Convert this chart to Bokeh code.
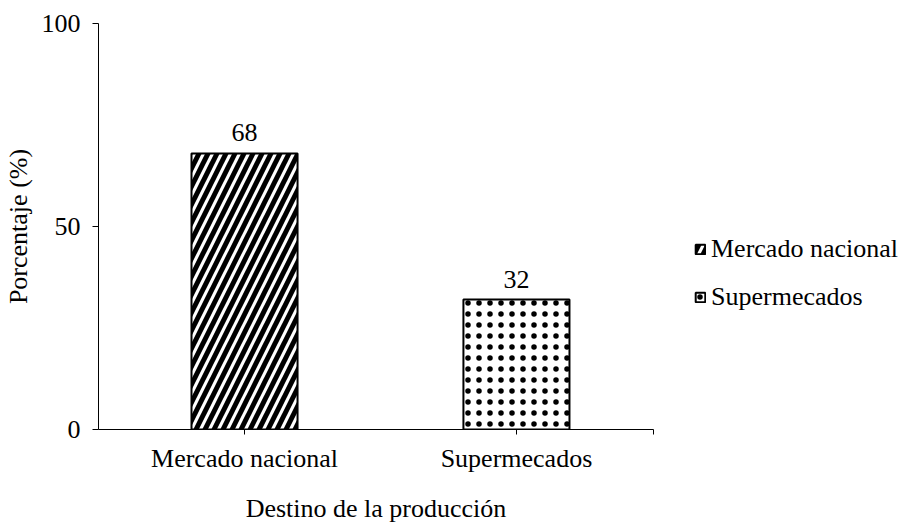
from bokeh.plotting import figure
from bokeh.models import Range1d, FixedTicker, Legend, LegendItem, ColumnDataSource
from bokeh.core.properties import value
from bokeh.embed import file_html
from bokeh.resources import INLINE

categories = ["Mercado nacional", "Supermecados"]
values = [68, 32]
y_ticks = [0, 50, 100]
x_title = "Destino de la producción"
y_title = "Porcentaje (%)"

FONT = "Liberation Serif"
FS = "26px"

positions = [i + 1 for i in range(len(categories))]
x_end = 2.504

p = figure(width=890, height=512, output_backend="svg", toolbar_location=None,
           x_range=Range1d(0.463, x_end), y_range=Range1d(0, 100),
           frame_width=555, frame_height=406,
           min_border_left=97, min_border_right=238, min_border_top=23, min_border_bottom=80)
p.outline_line_color = None
p.grid.visible = False
p.background_fill_color = "white"

patterns = ["/", "."]
scales = [18, 11]
weights = [5, 1]

renderers = []
for i, (cat, val) in enumerate(zip(categories, values)):
    src = ColumnDataSource(dict(x=[positions[i]], top=[val]))
    r = p.vbar(x="x", top="top", bottom=0, width=0.39, source=src,
               fill_color="white", line_color="black", line_width=2,
               hatch_pattern=patterns[i], hatch_color="black",
               hatch_scale=scales[i], hatch_weight=weights[i])
    renderers.append(r)

lsrc = ColumnDataSource(dict(x=positions, y=values, t=[str(v) for v in values]))
p.text(x="x", y="y", text="t", source=lsrc, y_offset=-12,
       text_align="center", text_baseline="bottom",
       text_font=value(FONT), text_font_size=FS, text_color="black")

items = [LegendItem(label=cat, renderers=[r]) for cat, r in zip(categories, renderers)]
legend = Legend(items=items, location=(41, 117), orientation="vertical",
                glyph_width=12, glyph_height=12, label_standoff=5,
                label_height=30, spacing=18, padding=0, margin=0,
                border_line_color=None, background_fill_alpha=0,
                label_text_font=FONT, label_text_font_size=FS, label_text_color="black")
p.add_layout(legend, "right")

# axes
p.xaxis.ticker = FixedTicker(ticks=positions + [x_end])
p.xaxis.major_label_overrides = {**{pos: cat for pos, cat in zip(positions, categories)}, x_end: ""}
p.yaxis.ticker = FixedTicker(ticks=y_ticks)
for ax in (p.xaxis[0], p.yaxis[0]):
    ax.axis_line_color = "black"
    ax.axis_line_width = 1
    ax.major_tick_line_color = "black"
    ax.major_tick_in = 0
    ax.minor_tick_line_color = None
    ax.major_label_text_font = FONT
    ax.major_label_text_font_size = FS
    ax.major_label_text_color = "black"
    ax.axis_label_text_font = FONT
    ax.axis_label_text_font_size = FS
    ax.axis_label_text_font_style = "normal"
    ax.axis_label_text_color = "black"

p.xaxis.major_tick_out = 5
p.xaxis.major_label_standoff = 9
p.xaxis.axis_label = x_title
p.xaxis.axis_label_standoff = 18

p.yaxis.major_tick_out = 6
p.yaxis.major_label_standoff = 12
p.yaxis.axis_label = y_title
p.yaxis.axis_label_standoff = 6

open("out.html", "w").write(file_html(p, INLINE))
